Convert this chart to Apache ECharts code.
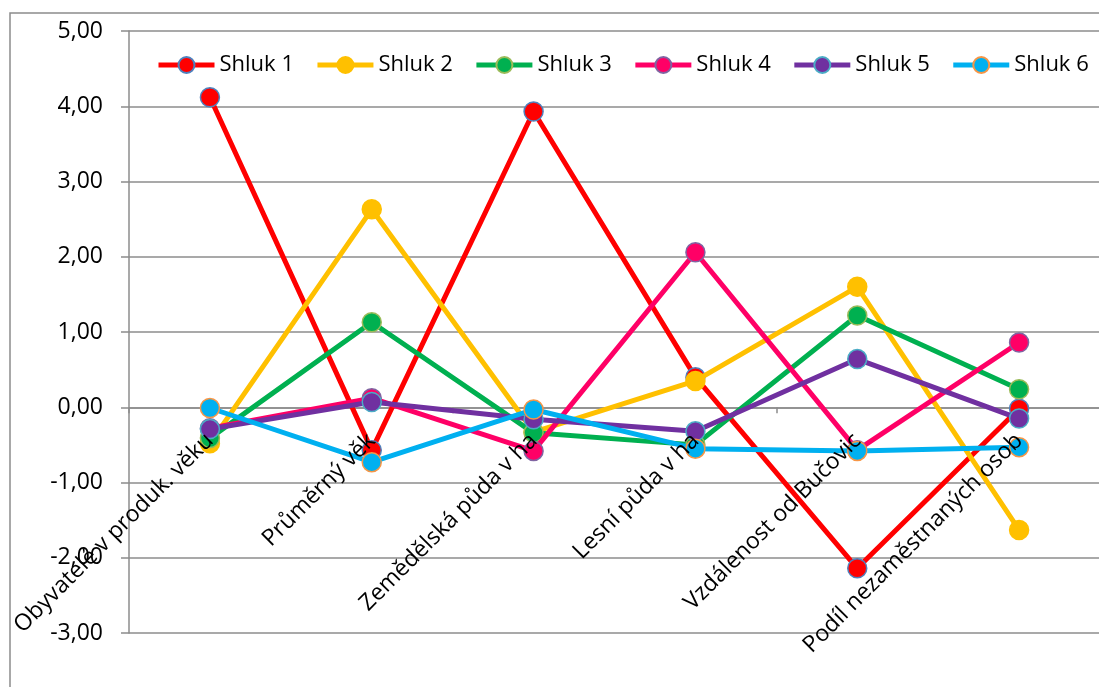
<!DOCTYPE html>
<html>
<head>
<meta charset="utf-8">
<title>Shluky – průměrné standardizované hodnoty</title>
<script src="https://cdn.jsdelivr.net/npm/echarts@6/dist/echarts.min.js"></script>
<style>
  html, body { margin: 0; padding: 0; background: #fff; }
  #chart { width: 1099px; height: 687px; }
</style>
</head>
<body>
<div id="chart"></div>
<script>
// Categories (variables) on the x axis
const categories = [
  'Obyvatelé v produk. věku',
  'Průměrný věk',
  'Zemědělská půda v ha',
  'Lesní půda v ha',
  'Vzdálenost od Bučovic',
  'Podíl nezaměstnaných osob'
];

// Cluster means (standardized)
const shluk1 = [4.12, -0.57, 3.93, 0.40, -2.14, -0.02];
const shluk2 = [-0.48, 2.63, -0.33, 0.35, 1.60, -1.63];
const shluk3 = [-0.41, 1.13, -0.34, -0.50, 1.22, 0.24];
const shluk4 = [-0.28, 0.12, -0.58, 2.06, -0.57, 0.86];
const shluk5 = [-0.29, 0.07, -0.16, -0.32, 0.64, -0.15];
const shluk6 = [-0.01, -0.73, -0.03, -0.55, -0.58, -0.53];

const seriesNames = ['Shluk 1', 'Shluk 2', 'Shluk 3', 'Shluk 4', 'Shluk 5', 'Shluk 6'];
const seriesData = [shluk1, shluk2, shluk3, shluk4, shluk5, shluk6];

// Y axis range and step
const yMin = -3;
const yMax = 5;
const yStep = 1;

const lineColors   = ['#FF0000', '#FFC000', '#00B050', '#FF0066', '#7030A0', '#00B0F0'];
const markerBorder = ['#4F81BD', '#FFC000', '#9BBB59', '#8064A2', '#4BACC6', '#F79646'];

const FONT = '"Open Sans", "Liberation Sans", sans-serif';
const AXIS_FONT_SIZE = 23;
const LEGEND_FONT_SIZE = 22;
const GRID_GRAY = '#8c8c8c';

// Plot area
const GRID_LEFT = 129, GRID_TOP = 31, GRID_W = 971, GRID_H = 602;
// The category axis sits on the zero line of the value axis
const zeroOffset = -GRID_H * (0 - yMin) / (yMax - yMin);

const chart = echarts.init(document.getElementById('chart'), null, { renderer: 'canvas' });

const series = seriesNames.map((name, i) => ({
  name: name,
  type: 'line',
  xAxisIndex: 0,
  yAxisIndex: 0,
  data: seriesData[i],
  symbol: 'circle',
  symbolSize: 19,
  showSymbol: true,
  lineStyle: { color: lineColors[i], width: 5 },
  itemStyle: { color: lineColors[i], borderColor: markerBorder[i], borderWidth: 1.5 },
  emphasis: { disabled: true },
  z: 3 + i
}));

chart.setOption({
  animation: false,
  backgroundColor: '#ffffff',
  textStyle: { fontFamily: FONT },
  graphic: [{
    type: 'rect',
    shape: { x: 10, y: 13, width: 1300, height: 900 },
    style: { fill: 'none', stroke: GRID_GRAY, lineWidth: 1.5 },
    silent: true,
    z: -1
  }],
  legend: {
    data: seriesNames,
    left: 156,
    top: 54,
    padding: 0,
    itemWidth: 56,
    itemHeight: 20,
    itemGap: 21,
    lineStyle: { width: 5 },
    textStyle: { fontFamily: FONT, fontSize: LEGEND_FONT_SIZE, color: '#000' }
  },
  grid: {
    left: GRID_LEFT, top: GRID_TOP, width: GRID_W, height: GRID_H,
    containLabel: false,
    outerBoundsMode: 'none'
  },
  xAxis: [
    {
      // axis line and ticks on the zero line, beneath the series
      type: 'category',
      data: categories,
      position: 'bottom',
      boundaryGap: true,
      offset: zeroOffset,
      axisLine: { onZero: false, lineStyle: { color: GRID_GRAY, width: 1.5 } },
      axisTick: { show: true, alignWithLabel: false, length: 6, lineStyle: { color: GRID_GRAY, width: 1.5 } },
      axisLabel: { show: false },
      splitLine: { show: false },
      z: 0
    },
    {
      // category labels, drawn above the series
      type: 'category',
      data: categories,
      position: 'bottom',
      boundaryGap: true,
      offset: zeroOffset,
      axisLine: { show: false, onZero: false },
      axisTick: { show: false },
      axisLabel: { rotate: 45, margin: 30, interval: 0, fontFamily: FONT, fontSize: AXIS_FONT_SIZE, color: '#000' },
      splitLine: { show: false },
      z: 20
    }
  ],
  yAxis: {
    type: 'value',
    min: yMin,
    max: yMax,
    interval: yStep,
    axisLine: { show: true, lineStyle: { color: GRID_GRAY, width: 1.5 } },
    axisTick: { show: true, length: 8, lineStyle: { color: GRID_GRAY, width: 1.5 } },
    axisLabel: {
      margin: 26,
      fontFamily: FONT,
      fontSize: AXIS_FONT_SIZE,
      color: '#000',
      formatter: v => v.toFixed(2).replace('.', ',')
    },
    splitLine: { show: true, lineStyle: { color: GRID_GRAY, width: 1.5 } }
  },
  series: series
});
</script>
</body>
</html>
